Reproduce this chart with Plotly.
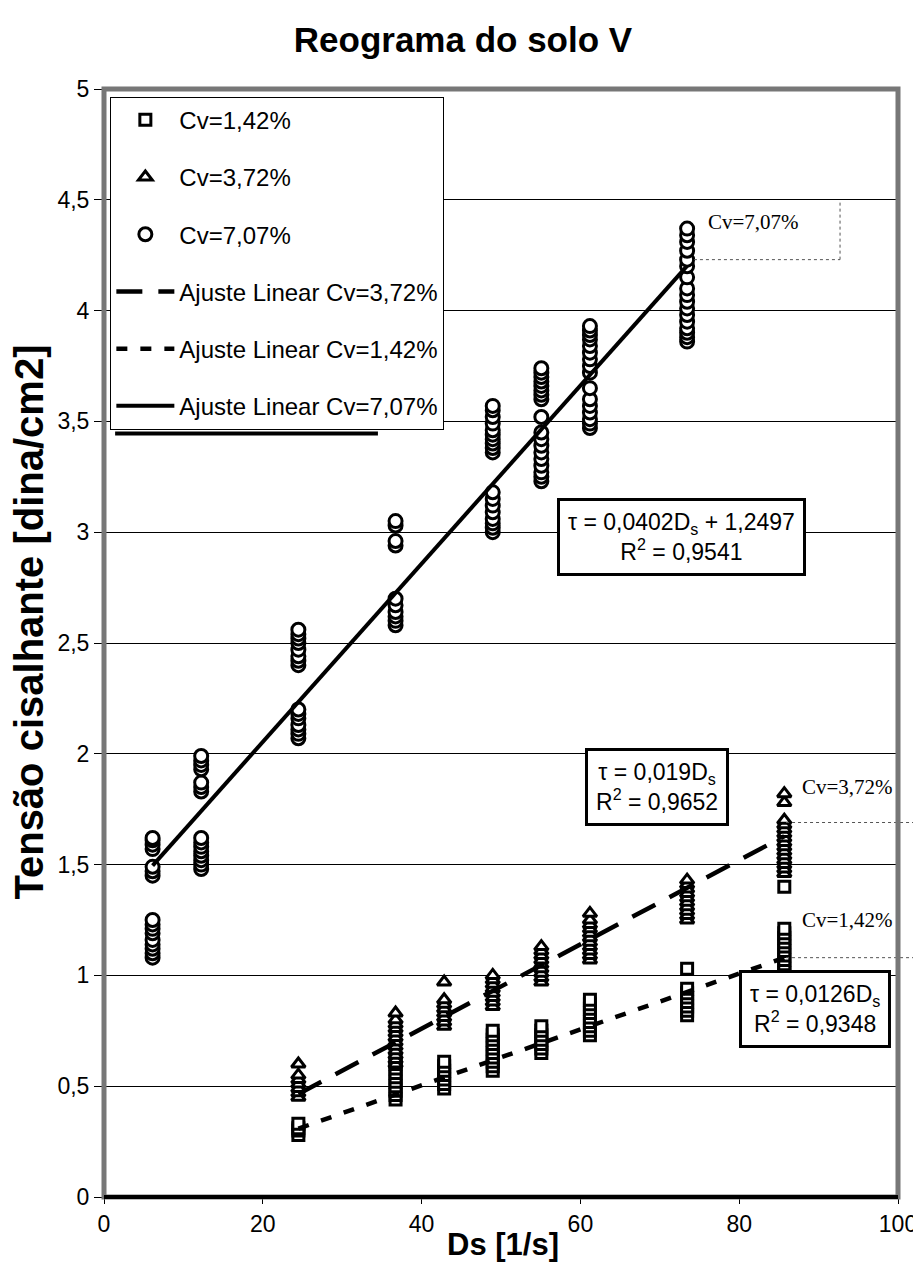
import plotly.graph_objects as go

# ---------------- data ----------------
# Cv = 7,07 %  (circles)
c707_ds = [6.12, 12.24, 24.48, 36.72, 48.96, 55.08, 61.2, 73.44]
c707_tau = [
    [1.08, 1.10, 1.12, 1.14, 1.16, 1.19, 1.21, 1.23, 1.25, 1.45, 1.47, 1.49, 1.57, 1.59, 1.61, 1.62],
    [1.48, 1.50, 1.52, 1.54, 1.56, 1.58, 1.60, 1.62, 1.83, 1.85, 1.87, 1.93, 1.95, 1.97, 1.99],
    [2.07, 2.09, 2.11, 2.13, 2.16, 2.18, 2.20, 2.40, 2.42, 2.44, 2.47, 2.50, 2.52, 2.54, 2.56],
    [2.58, 2.60, 2.62, 2.64, 2.67, 2.70, 2.94, 2.96, 3.03, 3.05],
    [3.00, 3.02, 3.04, 3.06, 3.09, 3.12, 3.15, 3.18, 3.36, 3.38, 3.40, 3.42, 3.44, 3.46, 3.49,
     3.52, 3.55, 3.57],
    [3.23, 3.25, 3.27, 3.30, 3.33, 3.36, 3.39, 3.42, 3.45, 3.52, 3.60, 3.62, 3.64, 3.66, 3.68,
     3.70, 3.72, 3.74],
    [3.47, 3.49, 3.51, 3.54, 3.57, 3.60, 3.65, 3.72, 3.75, 3.78, 3.81, 3.84, 3.87, 3.89, 3.91, 3.93],
    [3.86, 3.88, 3.90, 3.92, 3.95, 3.98, 4.01, 4.04, 4.07, 4.10, 4.15, 4.20, 4.23, 4.27, 4.31,
     4.34, 4.37],
]

# Cv = 3,72 %  (triangles)
c372_ds = [24.48, 36.72, 42.84, 48.96, 55.08, 61.2, 73.44, 85.68]
c372_tau = [
    [0.45, 0.47, 0.49, 0.51, 0.53, 0.55, 0.60],
    [0.60, 0.62, 0.64, 0.66, 0.68, 0.70, 0.72, 0.74, 0.76, 0.78, 0.80, 0.83],
    [0.77, 0.79, 0.81, 0.83, 0.85, 0.87, 0.89, 0.97],
    [0.86, 0.88, 0.90, 0.92, 0.94, 0.96, 0.98, 1.00],
    [0.97, 0.99, 1.01, 1.03, 1.05, 1.07, 1.09, 1.11, 1.13],
    [1.07, 1.09, 1.11, 1.13, 1.15, 1.17, 1.19, 1.21, 1.23, 1.25, 1.28],
    [1.25, 1.27, 1.29, 1.31, 1.33, 1.35, 1.37, 1.39, 1.41, 1.43],
    [1.46, 1.48, 1.50, 1.52, 1.54, 1.56, 1.58, 1.60, 1.62, 1.64, 1.66, 1.68, 1.70, 1.78, 1.82],
]

# Cv = 1,42 %  (squares)
c142_ds = [24.48, 36.72, 42.84, 48.96, 55.08, 61.2, 73.44, 85.68]
c142_tau = [
    [0.28, 0.30, 0.31, 0.33],
    [0.44, 0.46, 0.48, 0.50, 0.52, 0.54, 0.56, 0.58, 0.60, 0.62],
    [0.49, 0.51, 0.53, 0.55, 0.57, 0.59, 0.61],
    [0.57, 0.59, 0.61, 0.63, 0.65, 0.67, 0.69, 0.71, 0.73, 0.75],
    [0.65, 0.67, 0.69, 0.71, 0.73, 0.75, 0.77],
    [0.73, 0.75, 0.77, 0.79, 0.81, 0.83, 0.85, 0.87, 0.89],
    [0.82, 0.84, 0.86, 0.88, 0.90, 0.92, 0.94, 1.03],
    [0.97, 0.99, 1.01, 1.03, 1.05, 1.07, 1.09, 1.11, 1.13, 1.15, 1.17, 1.19, 1.21, 1.40],
]

# linear fits: (slope, intercept)
fit707 = (0.0402, 1.2497)
fit372 = (0.019, 0.0)
fit142 = (0.0126, 0.0)

x_ticks = [0, 20, 40, 60, 80, 100]


def flatten(ds, taus):
    xs, ys = [], []
    for d, col in zip(ds, taus):
        for t in col:
            xs.append(d)
            ys.append(t)
    return xs, ys


def fit_line(ds, fit):
    x0, x1 = min(ds), max(ds)
    return [x0, x1], [fit[0] * x0 + fit[1], fit[0] * x1 + fit[1]]


fig = go.Figure()

x142, y142 = flatten(c142_ds, c142_tau)
x372, y372 = flatten(c372_ds, c372_tau)
x707, y707 = flatten(c707_ds, c707_tau)

mk_line = dict(color="black", width=3)

fig.add_trace(go.Scatter(x=x142, y=y142, mode="markers", name="Cv=1,42%",
                         legendgroup="a",
                         marker=dict(symbol="square", size=11, color="white", line=mk_line)))
fig.add_trace(go.Scatter(x=x372, y=y372, mode="markers", name="Cv=3,72%",
                         legendgroup="b",
                         marker=dict(symbol="triangle-up", size=12, color="white", line=mk_line)))
fig.add_trace(go.Scatter(x=x707, y=y707, mode="markers", name="Cv=7,07%",
                         legendgroup="c",
                         marker=dict(symbol="circle", size=13, color="white", line=mk_line)))

lx, ly = fit_line(c372_ds, fit372)
fig.add_trace(go.Scatter(x=lx, y=ly, mode="lines", name="Ajuste Linear Cv=3,72%",
                         legendgroup="d",
                         line=dict(color="black", width=4.5, dash="26px,16px")))
lx, ly = fit_line(c142_ds, fit142)
fig.add_trace(go.Scatter(x=lx, y=ly, mode="lines", name="Ajuste Linear Cv=1,42%",
                         legendgroup="e",
                         line=dict(color="black", width=4.5, dash="11px,13px")))
lx, ly = fit_line(c707_ds, fit707)
fig.add_trace(go.Scatter(x=lx, y=ly, mode="lines", name="Ajuste Linear Cv=7,07%",
                         legendgroup="f",
                         line=dict(color="black", width=4)))

font_sans = "Arial, Liberation Sans, sans-serif"
font_serif = "Times New Roman, Liberation Serif, serif"

box = dict(showarrow=False, bgcolor="white", bordercolor="black", borderwidth=3,
           borderpad=8, font=dict(size=23, family=font_sans, color="black"))

annotations = [
    dict(text="<b>Tensão cisalhante [dina/cm2]</b>", xref="paper", yref="paper",
         x=-0.095, y=0.519, xanchor="center", yanchor="middle", textangle=-90,
         showarrow=False, font=dict(size=40, family=font_sans, color="black")),
    dict(text="<b>Ds [1/s]</b>", xref="paper", yref="paper",
         x=0.502, y=-0.043, showarrow=False, xanchor="center", yanchor="middle",
         font=dict(size=31, family=font_sans, color="black")),
    dict(text="τ = 0,0402D<sub>s</sub> + 1,2497<br>R<sup>2</sup> = 0,9541",
         x=72.7, y=2.98, **box),
    dict(text="τ = 0,019D<sub>s</sub><br>R<sup>2</sup> = 0,9652",
         x=69.6, y=1.85, **box),
    dict(text="τ = 0,0126D<sub>s</sub><br>R<sup>2</sup> = 0,9348",
         x=89.6, y=0.85, **box),
    dict(text="Cv=7,07%", x=75.8, y=4.40, xanchor="left", showarrow=False,
         font=dict(size=21, family=font_serif, color="black")),
    dict(text="Cv=3,72%", x=87.7, y=1.85, xanchor="left", showarrow=False,
         font=dict(size=21, family=font_serif, color="black")),
    dict(text="Cv=1,42%", x=87.7, y=1.25, xanchor="left", showarrow=False,
         font=dict(size=21, family=font_serif, color="black")),
]

dotted = dict(color="#555", width=1, dash="dot")
shapes = [
    # dotted label box of Cv=7,07%
    dict(type="line", x0=74.3, x1=92.7, y0=4.23, y1=4.23, xref="x", yref="y", line=dotted),
    dict(type="line", x0=92.7, x1=92.7, y0=4.23, y1=4.49, xref="x", yref="y", line=dotted),
    # leader lines of right labels
    dict(type="line", x0=0.859, x1=1.03, y0=1.69, y1=1.69, xref="paper", yref="y", line=dotted),
    dict(type="line", x0=0.859, x1=1.03, y0=1.08, y1=1.08, xref="paper", yref="y", line=dotted),
    # dark shadow line under the legend
    dict(type="line", xref="paper", yref="paper", x0=0.014, x1=0.345, y0=0.689, y1=0.689,
         line=dict(color="black", width=4)),
    # frame
    dict(type="rect", xref="paper", yref="paper", x0=0, x1=1, y0=0, y1=1,
         line=dict(color="#777", width=5)),
    dict(type="line", xref="paper", yref="paper", x0=0, x1=1, y0=0, y1=0,
         line=dict(color="black", width=4)),
]

fig.update_layout(
    width=921, height=1263,
    margin=dict(l=96, r=26, t=81, b=74),
    paper_bgcolor="white", plot_bgcolor="white",
    separators=",.",
    font=dict(family=font_sans, color="black"),
    title=dict(text="<b>Reograma do solo V</b>", x=0.494, xref="container",
               y=0.975, yref="container", xanchor="center", yanchor="middle",
               font=dict(size=35, family=font_sans, color="black")),
    showlegend=True,
    legend=dict(x=0.008, y=0.993, xanchor="left", yanchor="top",
                bgcolor="white", bordercolor="black", borderwidth=1,
                font=dict(size=24, family=font_sans, color="black"),
                tracegroupgap=23, itemwidth=58),
    annotations=annotations,
    shapes=shapes,
)

fig.update_xaxes(range=[0, 100], tickvals=x_ticks, showgrid=False, zeroline=False,
                 ticks="outside", ticklen=6, tickcolor="black",
                 tickfont=dict(size=23, family=font_sans, color="black"),
                 showline=False)
fig.update_yaxes(range=[0, 5], dtick=0.5, showgrid=True, gridcolor="black", gridwidth=1,
                 zeroline=False, ticks="outside", ticklen=9, tickcolor="black",
                 tickfont=dict(size=23, family=font_sans, color="black"),
                 showline=False)

fig.write_html("out.html")
